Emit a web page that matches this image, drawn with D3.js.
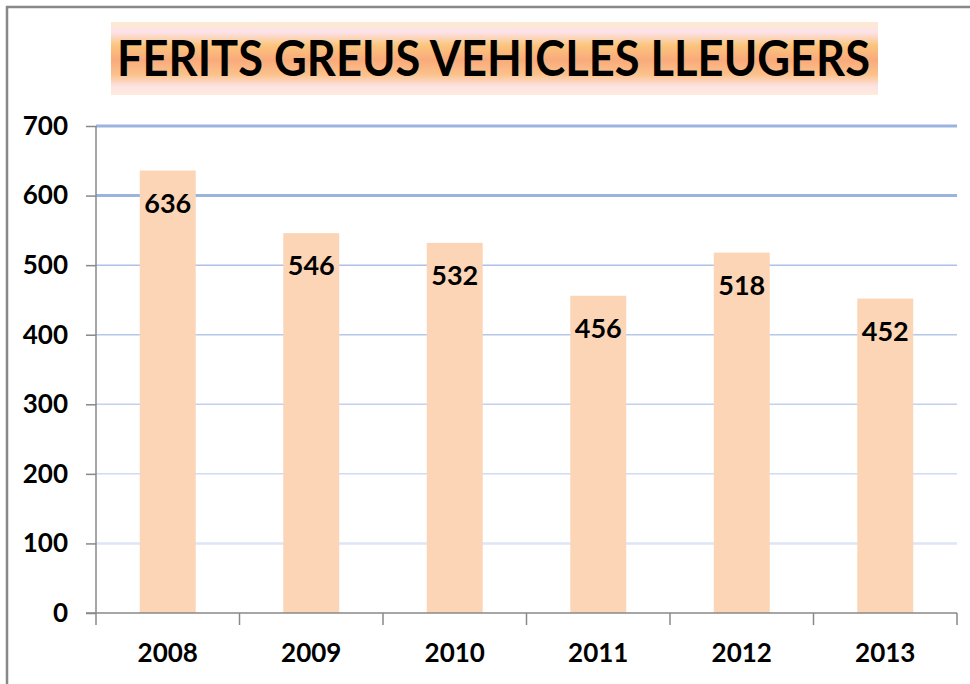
<!DOCTYPE html>
<html><head><meta charset="utf-8">
<script src="https://cdn.jsdelivr.net/npm/d3@7"></script>
<style>body{margin:0;background:#fff}svg{display:block}</style>
</head><body>
<script>
const title = "FERITS GREUS VEHICLES LLEUGERS";
const years = ["2008","2009","2010","2011","2012","2013"];
const values = [636,546,532,456,518,452];
const yTicks = [0,100,200,300,400,500,600,700];

const W=970,H=684;
const svg=d3.select("body").append("svg").attr("width",W).attr("height",H);
const font="Lato, 'Open Sans', sans-serif";

// frame
svg.append("path").attr("d",`M7,${H}V7H${W}`).attr("fill","none").attr("stroke","#888").attr("stroke-width",2.5);

const x=d3.scaleBand().domain(years).range([96,957]).paddingInner(0.61).paddingOuter(0.305);
const y=d3.scaleLinear().domain([0,700]).range([613,126]);

// gradient title box
const defs=svg.append("defs");
const g=defs.append("linearGradient").attr("id","tg").attr("x1",0).attr("y1",0).attr("x2",0).attr("y2",1);
[[0,"#fdeacf"],[0.14,"#fde2ea"],[0.32,"#fbc57c"],[0.52,"#f9aa7c"],[0.72,"#fbc28a"],[0.88,"#fde2e2"],[1,"#fdecdc"]]
 .forEach(([o,c])=>g.append("stop").attr("offset",o).attr("stop-color",c));
svg.append("rect").attr("x",111).attr("y",22).attr("width",767).attr("height",73).attr("fill","url(#tg)");
svg.append("text").attr("x",117).attr("y",76).attr("textLength",753).attr("lengthAdjust","spacingAndGlyphs")
 .attr("font-family",font).attr("font-weight",700).attr("font-size",49).attr("fill","#000").text(title);

// gridlines
const gridStyle={700:["#9ab4e1",3],600:["#9ab4e1",3],500:["#aec2e7",1.5],400:["#b6c8ea",1.5],300:["#c2d2ee",1.5],200:["#cfdcf2",1.5],100:["#dde6f6",2.5]};
svg.append("g").selectAll("line").data(yTicks.filter(d=>d>0)).join("line")
 .attr("x1",96).attr("x2",957).attr("y1",d=>y(d)).attr("y2",d=>y(d))
 .attr("stroke",d=>gridStyle[d][0]).attr("stroke-width",d=>gridStyle[d][1]);

// bars
svg.append("g").selectAll("rect").data(values).join("rect")
 .attr("x",(d,i)=>x(years[i])).attr("width",x.bandwidth())
 .attr("y",d=>y(d)).attr("height",d=>y(0)-y(d)).attr("fill","#fbd5b5");

// value labels
svg.append("g").selectAll("text").data(values).join("text")
 .attr("x",(d,i)=>x(years[i])+x.bandwidth()/2).attr("y",d=>y(d)+42)
 .attr("text-anchor","middle").attr("font-family",font).attr("font-weight",700).attr("font-size",27)
 .attr("fill","#000").text(d=>d);

// y axis
const ya=svg.append("g").attr("transform","translate(96,0)")
 .call(d3.axisLeft(y).tickValues(yTicks).tickSize(10).tickPadding(18));
ya.select(".domain").attr("stroke","#888").attr("stroke-width",1.5).attr("d","M0,126V613");
ya.selectAll(".tick line").attr("stroke","#888").attr("stroke-width",1.5);
ya.selectAll(".tick text").attr("font-family",font).attr("font-weight",700).attr("font-size",26).attr("fill","#000");

// x axis
const xa=svg.append("g").attr("transform","translate(0,613)")
 .call(d3.axisBottom(x).tickSize(0).tickPadding(31));
xa.select(".domain").attr("stroke","#888").attr("stroke-width",1.5).attr("d","M86,0H957");
xa.selectAll(".tick text").attr("font-family",font).attr("font-weight",700).attr("font-size",26).attr("fill","#000");
const step=x.step();
const bounds=d3.range(years.length+1).map(i=>96+i*step);
svg.append("g").selectAll("line").data(bounds).join("line")
 .attr("x1",d=>d).attr("x2",d=>d).attr("y1",613).attr("y2",625)
 .attr("stroke","#888").attr("stroke-width",1.5);
</script>
</body></html>
